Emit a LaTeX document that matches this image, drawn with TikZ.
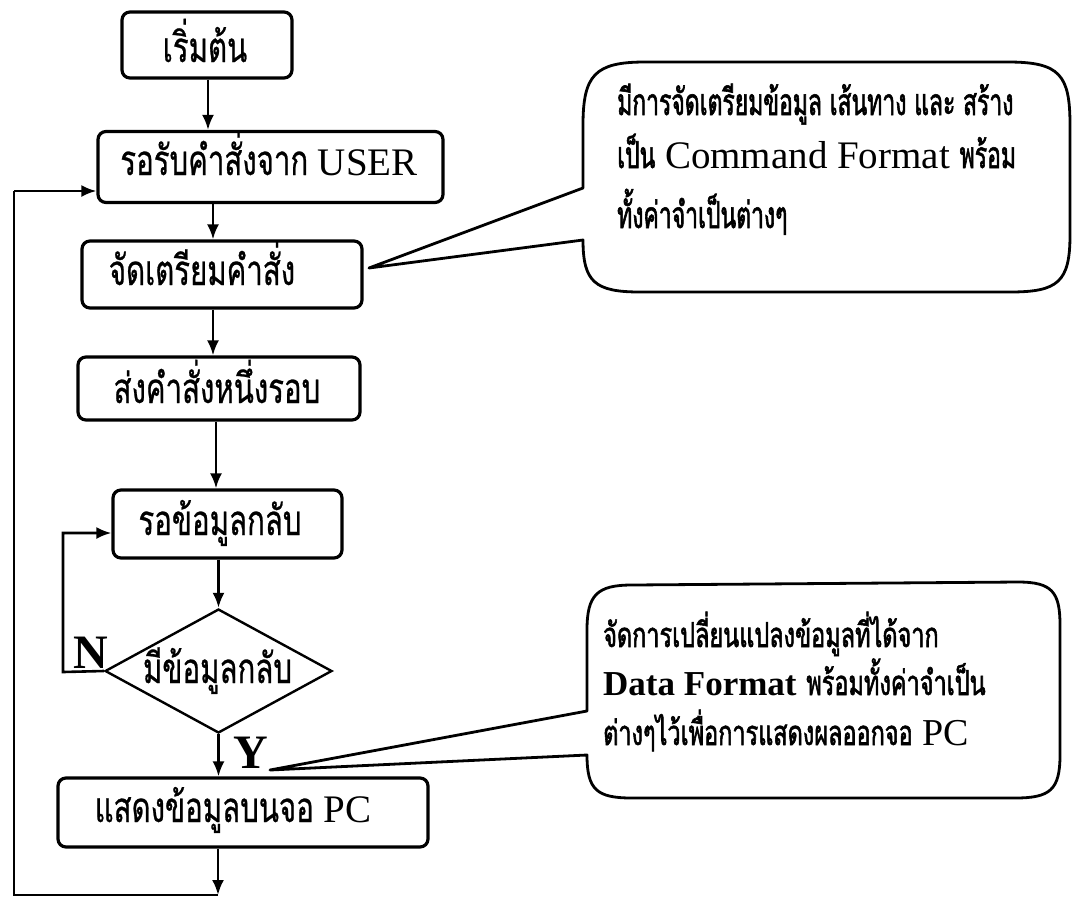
\documentclass[tikz,border=0pt]{standalone}
\usepackage{fontspec}
\setmainfont{Liberation Serif}
\newfontfamily\thai[Script=Thai,FakeStretch=0.7,FakeBold=0.6]{Loma}
\newfontfamily\thaib[Script=Thai,FakeStretch=0.62,FakeBold=1.6]{Loma}
\newfontfamily\thaic[Script=Thai,FakeStretch=0.68,FakeBold=1.6]{Loma}
\usetikzlibrary{arrows.meta,shapes.geometric}
\begin{document}
\begin{tikzpicture}[x=1pt,y=-1pt,
  box/.style={draw,line width=3.2pt,rounded corners=8pt,inner sep=0pt},
  dia/.style={draw,diamond,line width=2.4pt,inner sep=0pt},
  btxt/.style={anchor=base,inner sep=0pt,font=\fontsize{39}{44}\selectfont},
  arr/.style={line width=2.6pt,-{Latex[length=15pt,width=12pt]}},
  ln/.style={line width=2.6pt},
  bub/.style={line width=2.8pt,line join=round},
  lab/.style={anchor=base,inner sep=0pt,font=\bfseries\fontsize{48}{50}\selectfont},
  ctxt/.style={anchor=base west,inner sep=0pt,font=\fontsize{39}{40}\selectfont},
]
\newcommand\tb[1]{{\thai\fontsize{42}{44}\selectfont #1}}
\newcommand\tc[1]{{\thaib\fontsize{37}{40}\selectfont #1}}
\newcommand\td[1]{{\thaic\fontsize{34.5}{40}\selectfont #1}}
\useasboundingbox (0,0) rectangle (1073,898);

% boxes
\node[box,minimum width=170pt,minimum height=66pt] (n1) at (207,45) {};
\node[box,minimum width=345pt,minimum height=71pt] (n2) at (270.5,167) {};
\node[box,minimum width=280pt,minimum height=67pt] (n3) at (222,274.5) {};
\node[box,minimum width=282pt,minimum height=63pt] (n4) at (219,388.5) {};
\node[box,minimum width=229pt,minimum height=68pt] (n5) at (227.5,524) {};
\node[dia,minimum width=227pt,minimum height=124pt] (d) at (218.5,671) {};
\node[box,minimum width=370pt,minimum height=69pt] (n7) at (243,812.5) {};

% box texts
\node[btxt] (t1) at (205,62) {\tb{เริ่มต้น}};
\node[btxt] (t2) at (269,175) {\tb{รอรับคำสั่งจาก} USER};
\node[btxt] (t3) at (202,285) {\tb{จัดเตรียมคำสั่ง}};
\node[btxt] (t4) at (217,403) {\tb{ส่งคำสั่งหนึ่งรอบ}};
\node[btxt] (t5) at (220,535) {\tb{รอข้อมูลกลับ}};
\node[btxt] (t6) at (217.5,683) {\tb{มีข้อมูลกลับ}};
\node[btxt] (t7) at (233,822) {\tb{แสดงข้อมูลบนจอ} PC};

% labels
\node[lab] (N) at (91,668) {N};
\node[lab] (Y) at (251,768) {Y};

% connectors
\coordinate (a1) at (208,0);
\coordinate (a2) at (213,0);
\coordinate (a4) at (216,0);
\coordinate (a7) at (218,0);
\draw[arr] (n1.south -| a1) -- (n2.north -| a1);
\draw[arr] (n2.south -| a2) -- (n3.north -| a2);
\draw[arr] (n3.south -| a2) -- (n4.north -| a2);
\draw[arr] (n4.south -| a4) -- (n5.north -| a4);
\draw[arr] (n5.south -| d.north) -- (d.north);
\draw[arr] (d.south) -- (n7.north -| d.south);

\coordinate (j) at (218,895);
\coordinate (lb) at (14,895);
\coordinate (lt) at (14,191);
\draw[arr] (n7.south -| a7) -- (j);
\draw[ln] (j) -- (lb) -- (lt);
\draw[arr] (lt) -- (n2.west |- lt);

\coordinate (nl) at (63,672);
\coordinate (nu) at (63,533);
\draw[arr] (d.west) -- (nl) -- (nu) -- (n5.west |- nu);

% callout 1
\draw[bub] (583,188) -- (583,125) .. controls (583,75) and (595,62) .. (645,62)
  -- (1008,62) .. controls (1060,62) and (1070,75) .. (1070,125)
  -- (1070,235) .. controls (1070,282) and (1058,292) .. (1010,292)
  -- (640,292) .. controls (595,292) and (583,282) .. (583,240)
  -- (369,268) -- cycle;
\node[ctxt] (c11) at (617,115) {\tc{มีการจัดเตรียมข้อมูล เส้นทาง และ สร้าง}};
\node[ctxt] (c12) at (617,168) {\tc{เป็น} Command Format \tc{พร้อม}};
\node[ctxt] (c13) at (617,228) {\tc{ทั้งค่าจำเป็นต่างๆ}};

% callout 2
\draw[bub] (587,711) -- (587,630) .. controls (587,595) and (597,585) .. (632,585)
  -- (1018,582) .. controls (1052,582) and (1060,592) .. (1060,625)
  -- (1060,755) .. controls (1060,790) and (1050,798) .. (1015,798)
  -- (632,798) .. controls (597,798) and (587,790) .. (587,755)
  -- (270,770) -- cycle;
\node[ctxt] (c21) at (603,647) {\td{จัดการเปลี่ยนแปลงข้อมูลที่ได้จาก}};
\node[ctxt] (c22) at (603,695) {{\bfseries\fontsize{35}{38}\selectfont Data Format} \td{พร้อมทั้งค่าจำเป็น}};
\node[ctxt] (c23) at (603,745) {\td{ต่างๆไว้เพื่อการแสดงผลออกจอ} {\fontsize{38}{38}\selectfont PC}};
\end{tikzpicture}
\end{document}
